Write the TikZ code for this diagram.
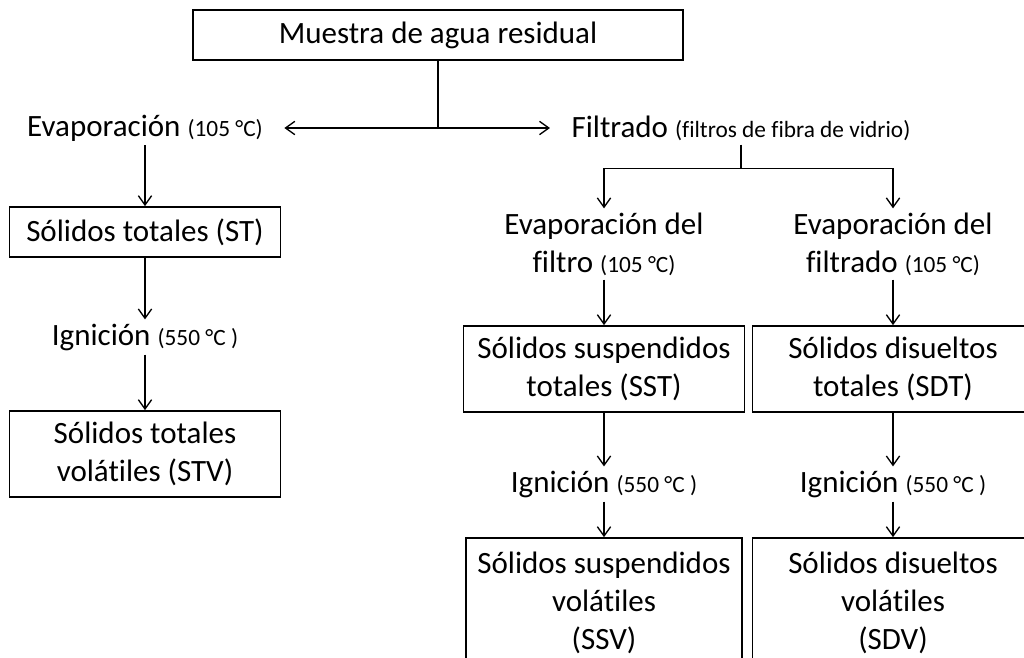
\documentclass[tikz,border=0pt]{standalone}
\usepackage{fontspec}
\setmainfont{Carlito}[Ligatures={NoCommon,NoRare}]
\usetikzlibrary{arrows.meta}
\newcommand{\mainfnt}{\fontsize{23.25pt}{28.5pt}\selectfont}
\newcommand{\tsmall}[1]{{\fontsize{17.5pt}{21pt}\selectfont #1}}
\tikzset{
  box/.style={draw, line width=1.3pt, inner sep=0pt, align=center, font=\mainfnt},
  lbl/.style={inner sep=3pt, align=center, font=\mainfnt},
  ln/.style={line width=1pt},
  arr/.style={line width=1pt, -{Straight Barb[length=7pt,width=10pt]}},
}
\begin{document}
\begin{tikzpicture}[x=0.75pt,y=-0.75pt]
\useasboundingbox (0,0) rectangle (1024,657);
\clip (0,0) rectangle (1024,657);
% Top: sample and the two branches
\node[box, minimum width=367.5pt, minimum height=37.5pt] (muestra) at (438,35) {Muestra de agua residual};
\node[lbl] (evap) at (145,128) {Evaporación \tsmall{(105 °C)}};
\node[lbl] (filt) at (741,128) {Filtrado \tsmall{(filtros de fibra de vidrio)}};
\coordinate (split) at (muestra.south |- evap.east);
\draw[ln] (muestra.south) -- (split);
\draw[arr, {Straight Barb[length=7pt,width=10pt]}-{Straight Barb[length=7pt,width=10pt]}, shorten <=13pt, shorten >=13pt] (evap.east) -- (evap.east -| filt.west);

% Left: total solids
\node[box, minimum width=203.25pt, minimum height=37.5pt] (st) at (145,232) {Sólidos totales (ST)};
\node[lbl] (ign1) at (145,337) {Ignición \tsmall{(550 °C )}};
\node[box, minimum width=203.25pt, minimum height=64.5pt] (stv) at (145,454) {Sólidos totales\\volátiles (STV)};
\draw[arr] (evap) -- (st);
\draw[arr] (st) -- (ign1);
\draw[arr] (ign1) -- (stv);

% Right: filter and filtrate
\draw[ln] (filt.south) -- ++(0,24) coordinate (fsplit);
\node[lbl] (evf) at (604,244) {Evaporación del\\filtro \tsmall{(105 °C)}};
\node[lbl] (evfd) at (893,244) {Evaporación del\\filtrado \tsmall{(105 °C)}};
\draw[arr] (fsplit) -| (evf.north);
\draw[arr] (fsplit) -| (evfd.north);

\node[box, minimum width=210.75pt, minimum height=64.5pt] (sst) at (604,369) {Sólidos suspendidos\\totales (SST)};
\node[box, minimum width=210.75pt, minimum height=64.5pt] (sdt) at (893,369) {Sólidos disueltos\\totales (SDT)};
\node[lbl] (ign2) at (604,484) {Ignición \tsmall{(550 °C )}};
\node[lbl] (ign3) at (893,484) {Ignición \tsmall{(550 °C )}};
\node[box, minimum width=207pt, minimum height=97.5pt] (ssv) at (604,603) {Sólidos suspendidos\\volátiles\\(SSV)};
\node[box, minimum width=210.75pt, minimum height=97.5pt] (sdv) at (893,603) {Sólidos disueltos\\volátiles\\(SDV)};
\draw[arr] (evf) -- (sst);
\draw[arr] (sst) -- (ign2);
\draw[arr] (ign2) -- (ssv);
\draw[arr] (evfd) -- (sdt);
\draw[arr] (sdt) -- (ign3);
\draw[arr] (ign3) -- (sdv);
\end{tikzpicture}
\end{document}
